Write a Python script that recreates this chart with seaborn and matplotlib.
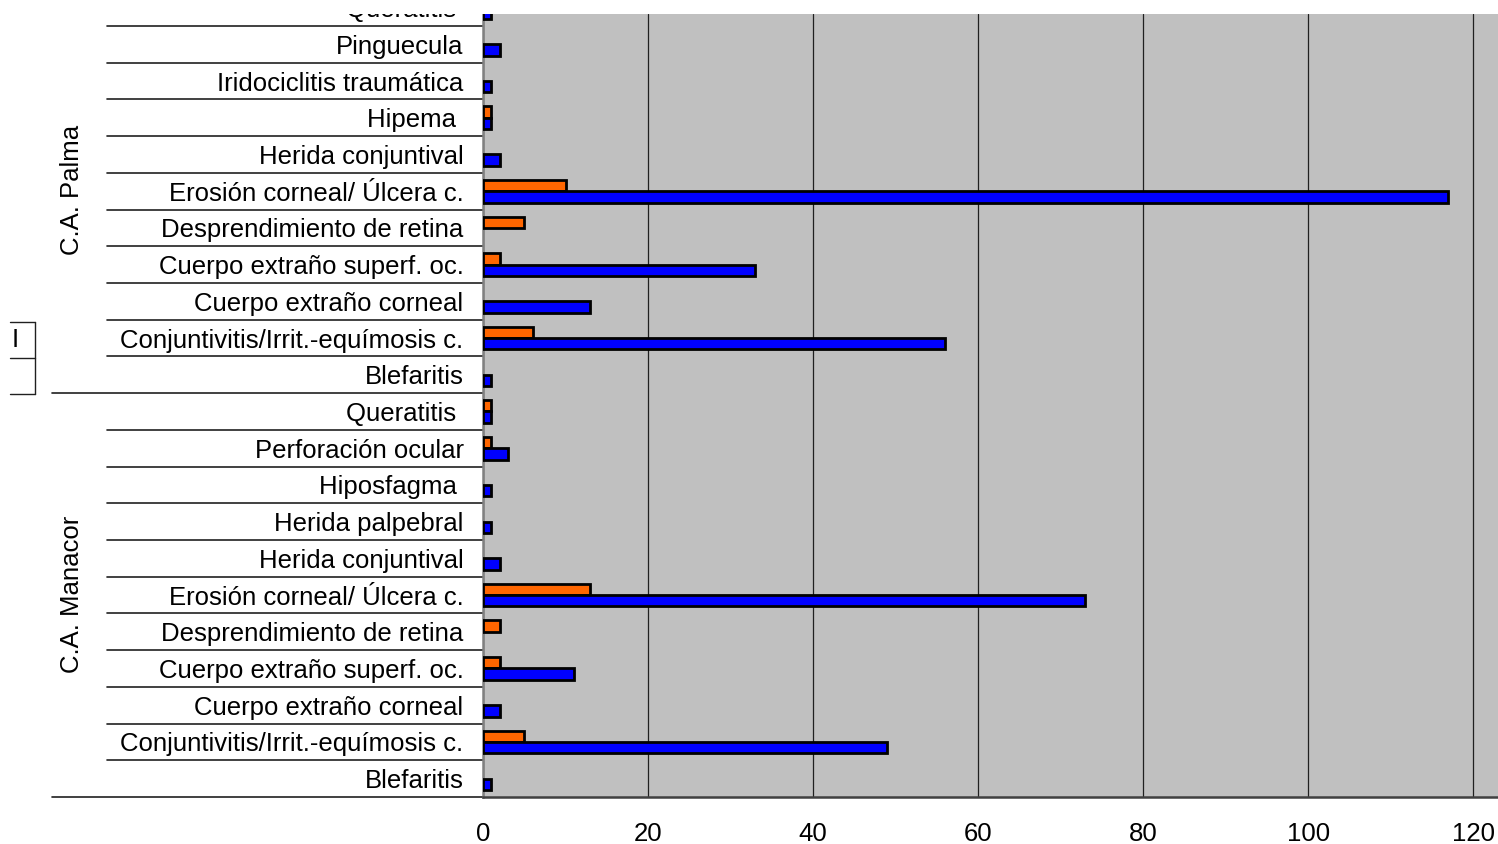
import seaborn as sns
import matplotlib.pyplot as plt
import pandas as pd
from matplotlib.patches import Rectangle

# datos (de arriba a abajo)
diag_palma = ['Queratitis ', 'Pinguecula', 'Iridociclitis traumática', 'Hipema ',
              'Herida conjuntival', 'Erosión corneal/ Úlcera c.', 'Desprendimiento de retina',
              'Cuerpo extraño superf. oc.', 'Cuerpo extraño corneal',
              'Conjuntivitis/Irrit.-equímosis c.', 'Blefaritis']
naranja_palma = [0, 0, 0, 1, 0, 10, 5, 2, 0, 6, 0]
azul_palma = [1, 2, 1, 1, 2, 117, 0, 33, 13, 56, 1]

diag_manacor = ['Queratitis ', 'Perforación ocular', 'Hiposfagma ', 'Herida palpebral',
                'Herida conjuntival', 'Erosión corneal/ Úlcera c.', 'Desprendimiento de retina',
                'Cuerpo extraño superf. oc.', 'Cuerpo extraño corneal',
                'Conjuntivitis/Irrit.-equímosis c.', 'Blefaritis']
naranja_manacor = [1, 1, 0, 0, 0, 13, 2, 2, 0, 5, 0]
azul_manacor = [1, 3, 1, 1, 2, 73, 0, 11, 2, 49, 1]

grupos = ['C.A. Palma', 'C.A. Manacor']
series = ['Serie 1', 'Serie 2']
colores = ['#FF6600', '#0000FF']
xticks = [0, 20, 40, 60, 80, 100, 120]

filas = []
for g, diags, nar, azu in [(grupos[0], diag_palma, naranja_palma, azul_palma),
                           (grupos[1], diag_manacor, naranja_manacor, azul_manacor)]:
    for d, n, a in zip(diags, nar, azu):
        filas.append({'clave': g + '|' + d, 'diag': d, 'serie': series[0], 'valor': n})
        filas.append({'clave': g + '|' + d, 'diag': d, 'serie': series[1], 'valor': a})
df = pd.DataFrame(filas)
orden = list(dict.fromkeys(df['clave']))
etiquetas = [c.split('|')[1] for c in orden]

sns.set_style('white')
plt.rcParams['font.family'] = ['Liberation Sans', 'DejaVu Sans']
plt.rcParams['text.color'] = 'black'
fs = 18.5

fig = plt.figure(figsize=(14.98, 8.44), dpi=100, facecolor='white')
ax = fig.add_axes([483/1498, 1 - 797/844, 1 - 483/1498, (797 - 14)/844])
ax.set_facecolor('#C0C0C0')

sns.barplot(data=df, y='clave', x='valor', hue='serie', order=orden, hue_order=series,
            palette=colores, orient='h', width=0.62, gap=0, edgecolor='black',
            linewidth=2.0, saturation=1, legend=False, ax=ax, zorder=3)
# barras de valor 0: Excel no las dibuja
for p in ax.patches:
    if p.get_width() == 0:
        p.set_visible(False)

n = len(orden)
ax.set_xticks(xticks)
ax.set_xticklabels([str(v) for v in xticks], fontsize=fs, color='black')
ax.set_yticks(range(n))
ax.set_yticklabels(etiquetas, fontsize=fs, color='black')
ax.set_xlim(0, 123)
ax.set_ylim(n - 0.5, 0.174)
ax.tick_params(axis='y', length=0, pad=14)
ax.tick_params(axis='x', length=7, width=1, color='#404040', direction='out', pad=11)
ax.xaxis.grid(True, color='#202020', linewidth=0.9, zorder=1)
ax.set_axisbelow(True)
ax.set_xlabel('')
ax.set_ylabel('')
for s in ['top', 'right']:
    ax.spines[s].set_visible(False)
ax.spines['left'].set_color('#808080')
ax.spines['left'].set_linewidth(1.8)
ax.spines['bottom'].set_color('#404040')
ax.spines['bottom'].set_linewidth(1.8)

# lineas separadoras del eje de categorias
trans = ax.get_yaxis_transform()
x_fila = (107 - 483) / 1015
x_grupo = (52 - 483) / 1015
for i in range(n):
    y = i + 0.5
    x0 = x_grupo if (y == len(diag_palma) - 0.5 or i == n - 1) else x_fila
    ax.plot([x0, 0], [y, y], transform=trans, color='#202020', lw=1.2, clip_on=False)

# etiqueta de la primera fila, cortada por arriba
ax.text(-20/1015, 0, etiquetas[0], transform=trans, ha='right', va='center_baseline',
        fontsize=fs, color='black', clip_on=False)

# etiquetas de grupo
fig.text(72/1498, 1 - 190/844, grupos[0], rotation=90, ha='center', va='center', fontsize=fs)
fig.text(72/1498, 1 - 594/844, grupos[1], rotation=90, ha='center', va='center', fontsize=fs)

# caja suelta a la izquierda
for yy in [322, 358, 394]:
    fig.add_artist(plt.Line2D([10/1498, 35/1498], [1 - yy/844, 1 - yy/844], color='#202020', lw=1))
fig.add_artist(plt.Line2D([35/1498, 35/1498], [1 - 322/844, 1 - 394/844], color='#202020', lw=1))
fig.text(12/1498, 1 - 340/844, 'I', ha='left', va='center', fontsize=fs)

# recorte superior
fig.add_artist(Rectangle((0, 1 - 14/844), 1, 14/844, transform=fig.transFigure,
                         facecolor='white', edgecolor='none', zorder=10))

fig.savefig('out.png', dpi=100, facecolor='white')
